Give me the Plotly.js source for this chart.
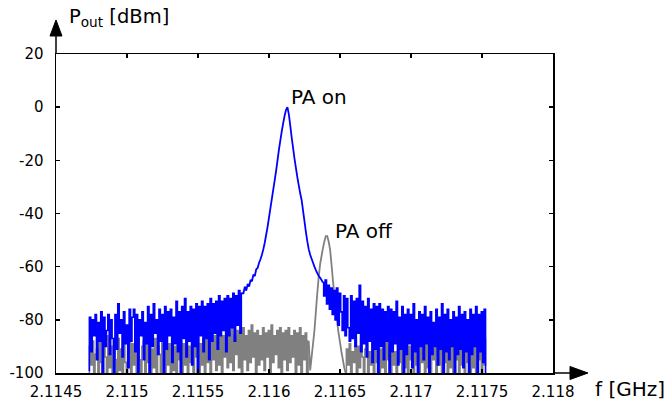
<!DOCTYPE html>
<html>
<head>
<meta charset="utf-8">
<script src="https://cdn.plot.ly/plotly-3.0.1.min.js"></script>
<style>html,body{margin:0;padding:0;background:#fff;}#chart{width:667px;height:401px;}</style>
</head>
<body>
<div id="chart"></div>
<script>
// Frequency sweep points [GHz]
const freqGHz = [
2.11473,2.11474,2.11475,2.11476,2.11477,2.11478,2.11479,2.11480,2.11481,2.11482,
2.11483,2.11484,2.11485,2.11486,2.11487,2.11488,2.11489,2.11490,2.11491,2.11492,
2.11493,2.11494,2.11495,2.11496,2.11497,2.11498,2.11499,2.11500,2.11501,2.11502,
2.11503,2.11504,2.11505,2.11506,2.11507,2.11508,2.11509,2.11510,2.11511,2.11512,
2.11513,2.11514,2.11515,2.11516,2.11517,2.11518,2.11519,2.11520,2.11521,2.11522,
2.11523,2.11524,2.11525,2.11526,2.11527,2.11528,2.11529,2.11530,2.11531,2.11532,
2.11533,2.11534,2.11535,2.11536,2.11537,2.11538,2.11539,2.11540,2.11541,2.11542,
2.11543,2.11544,2.11545,2.11546,2.11547,2.11548,2.11549,2.11550,2.11551,2.11552,
2.11553,2.11554,2.11555,2.11556,2.11557,2.11558,2.11559,2.11560,2.11561,2.11562,
2.11563,2.11564,2.11565,2.11566,2.11567,2.11568,2.11569,2.11570,2.11571,2.11572,
2.11573,2.11574,2.11575,2.11576,2.11577,2.11578,2.11579,2.11580,2.11581,2.11582,
2.11583,2.11584,2.11585,2.11586,2.11587,2.11588,2.11589,2.11590,2.11591,2.11592,
2.11593,2.11594,2.11595,2.11596,2.11597,2.11598,2.11599,2.11600,2.11601,2.11602,
2.11603,2.11604,2.11605,2.11606,2.11607,2.11608,2.11609,2.11610,2.11611,2.11612,
2.11613,2.11614,2.11615,2.11616,2.11617,2.11618,2.11619,2.11620,2.11621,2.11622,
2.11623,2.11624,2.11625,2.11626,2.11627,2.11628,2.11629,2.11630,2.11631,2.11632,
2.11633,2.11634,2.11635,2.11636,2.11637,2.11638,2.11639,2.11640,2.11641,2.11642,
2.11643,2.11644,2.11645,2.11646,2.11647,2.11648,2.11649,2.11650,2.11651,2.11652,
2.11653,2.11654,2.11655,2.11656,2.11657,2.11658,2.11659,2.11660,2.11661,2.11662,
2.11663,2.11664,2.11665,2.11666,2.11667,2.11668,2.11669,2.11670,2.11671,2.11672,
2.11673,2.11674,2.11675,2.11676,2.11677,2.11678,2.11679,2.11680,2.11681,2.11682,
2.11683,2.11684,2.11685,2.11686,2.11687,2.11688,2.11689,2.11690,2.11691,2.11692,
2.11693,2.11694,2.11695,2.11696,2.11697,2.11698,2.11699,2.11700,2.11701,2.11702,
2.11703,2.11704,2.11705,2.11706,2.11707,2.11708,2.11709,2.11710,2.11711,2.11712,
2.11713,2.11714,2.11715,2.11716,2.11717,2.11718,2.11719,2.11720,2.11721,2.11722,
2.11723,2.11724,2.11725,2.11726,2.11727,2.11728,2.11729,2.11730,2.11731,2.11732,
2.11733,2.11734,2.11735,2.11736,2.11737,2.11738,2.11739,2.11740,2.11741,2.11742,
2.11743,2.11744,2.11745,2.11746,2.11747,2.11748,2.11749,2.11750,2.11751,2.11752,
2.11753
];

// PA on [dBm]
const paOn = [
-99,-79,-92,-80,-86,-78,-95,-81,-88,-77,
-100,-79,-90,-84,-78,-93,-80,-87,-100,-78,
-91,-74,-85,-80,-94,-77,-89,-82,-98,-76,
-88,-79,-76,-92,-78,-100,-80,-86,-77,-95,
-81,-89,-75,-100,-78,-90,-74,-85,-80,-93,
-76,-88,-78,-100,-75,-91,-77,-86,-76,-96,
-79,-89,-73,-92,-77,-100,-75,-87,-72,-94,
-77,-88,-75,-97,-76,-90,-74,-100,-75,-86,
-73,-92,-75,-87,-74,-95,-72,-88,-74,-85,
-73,-91,-71,-86,-73,-84,-72,-92,-71,-86,
-72,-83,-70,-88,-71,-82,-69,-85,-70,
-70,-67.5,-69,-66.5,-67.5,-65,-65.5,-63,-63.5,-61,-60.5,-58.5,-57.2,-55.5,-53.5,-51,-48,-45,-41.5,-38,
-34.5,-31,-27.5,-24,-20,-16,-12.5,-9,-6,-3.2,-1,0,-2.8,-7,-11.5,-15.5,-19.5,-23,-26.5,-29.5,
-32.5,-35,-39,-43,-47,-50.5,-53.5,-55.5,-57,-58.5,-60,-61.3,-62.4,-63.5,-64.2,-65,
-66,-71,-65,-74,-67,-76,-68,-78,-69,-80,
-68,-82,-70,-77,-84,-71,-86,-72,-83,-88,
-71,-87,-73,-90,-72,-85,-67,-92,-73,-89,
-75,-94,-72,-88,-76,-96,-74,-91,-75,-100,
-74,-90,-76,-95,-77,-88,-75,-100,-76,-92,
-77,-89,-73,-97,-79,-91,-75,-100,-78,-93,
-76,-89,-78,-98,-74,-92,-80,-100,-77,-90,
-78,-95,-75,-89,-79,-100,-77,-93,-81,-90,
-76,-97,-79,-91,-74,-100,-78,-92,-76,-95,
-80,-90,-77,-100,-79,-93,-75,-91,-78,-98,
-77,-92,-80,-100,-76,-93,-78,-90,-75,-100,
-78,-92,-77,-96,-76,-100
];

// PA off [dBm]
const paOff = [
-100,-90,-97,-88,-100,-93,-91,-100,-87,-96,-100,-89,-94,-100,-86,-98,-90,-100,-88,-95,
-100,-87,-99,-91,-100,-88,-96,-100,-92,-86,-100,-89,-97,-91,-100,-87,-95,-100,-90,-88,
-100,-85,-96,-89,-100,-91,-98,-87,-100,-90,-93,-100,-88,-86,-100,-90,-97,-89,-100,-87,
-99,-90,-100,-86,-95,-88,-100,-89,-97,-85,-100,-90,-96,-87,-100,-88,-94,-86,-100,-89,
-97,-87,-100,-85,-96,-88,-100,-84,-95,-86,-99,-85,-97,-83,-100,-86,-94,-84,-98,-85,
-96,-83,-99,-86,-93,-84,-98,-85,-100,-83,-95,-86,-99,-84,-96,-82,-94,-85,-100,-84,
-97,-86,-95,-83,-99,-85,-94,-84,-100,-82,-96,-86,-93,-84,-98,-83,-100,-85,-95,-84,
-99,-83,-96,-86,-94,-84,-100,-85,-97,-83,-100,-86,-95,-85,-100,-88,
-99,-94,-89,-84,-77,-70,-64,-59,-56,-53,-50.5,-48.5,-48.5,-50.5,-53.5,-59,-65,-70.5,-76,-81,
-85,-88.5,-92,-95,-98,
-100,-91,-97,-89,-100,-92,-96,-88,-100,-90,
-98,-87,-94,-100,-91,-89,-100,-92,-97,-88,
-100,-90,-96,-86,-100,-91,-98,-89,-100,-87,
-95,-90,-100,-88,-97,-92,-100,-89,-96,-87,
-100,-91,-98,-88,-100,-90,-95,-86,-100,-89,
-97,-91,-100,-88,-96,-90,-100,-87,-98,-89,
-100,-91,-95,-88,-100,-90,-97,-86,-100,-89,
-96,-91,-100,-88,-98,-87,-100,-90,-95,-89,
-100,-88,-97,-91,-100,-87,-96,-89,-100,-90,
-98,-86,-100,-89,-95,-88,-100,-90,-97,-87
];

const xTickVals = [2.1145,2.115,2.1155,2.116,2.1165,2.117,2.1175,2.118];
const xTickText = ["2.1145","2.115","2.1155","2.116","2.1165","2.117","2.1175","2.118"];
const yTickVals = [20,0,-20,-40,-60,-80,-100];
const yTickText = ["20","0","-20","-40","-60","-80","-100"];

// index ranges: noise floors are drawn as steps, carrier peaks as plain lines
const onNoiseL = [0, 109], onPeak = [108, 166], onNoiseR = [165, 281];
const offNoiseL = [0, 156], offPeak = [155, 182], offNoiseR = [181, 281];

const FONT = "DejaVu Sans, Verdana, sans-serif";
const GRAY = "#808080", BLUE = "#0000ff";

function seg(ys, r, color, shape, width) {
  return {x: freqGHz.slice(r[0], r[1]), y: ys.slice(r[0], r[1]), type: "scatter", mode: "lines",
    line: {color: color, width: width, shape: shape, simplify: false}, hoverinfo: "skip"};
}

const traces = [
  seg(paOff, offNoiseL, GRAY, "hvh", 1.6),
  seg(paOff, offNoiseR, GRAY, "hvh", 1.6),
  seg(paOff, offPeak, GRAY, "linear", 1.8),
  seg(paOn, onNoiseL, BLUE, "hvh", 1.6),
  seg(paOn, onNoiseR, BLUE, "hvh", 1.6),
  seg(paOn, onPeak, BLUE, "linear", 1.8)
];

const axisCommon = {
  showgrid: false, zeroline: false, showline: true, linecolor: "#000", linewidth: 1.5,
  mirror: "ticks", ticks: "inside", ticklen: 4, tickwidth: 1.5, tickcolor: "#000",
  tickfont: {family: FONT, size: 15, color: "#000"}
};

const layout = {
  width: 667, height: 401,
  margin: {l: 56, r: 114, t: 54, b: 28, pad: 0},
  paper_bgcolor: "#fff", plot_bgcolor: "#fff",
  showlegend: false,
  font: {family: FONT, color: "#000"},
  xaxis: Object.assign({}, axisCommon, {
    range: [2.1145, 2.118], tickmode: "array", tickvals: xTickVals, ticktext: xTickText,
    ticklabelstandoff: 4
  }),
  yaxis: Object.assign({}, axisCommon, {
    range: [-100, 20], tickmode: "array", tickvals: yTickVals, ticktext: yTickText,
    ticklabelstandoff: 8
  }),
  shapes: [
    {type: "line", xref: "paper", yref: "paper", x0: 0, y0: 1, x1: 0, y1: 1.058,
     line: {color: "#000", width: 1.5}},
    {type: "path", xref: "paper", yref: "paper",
     path: "M -0.0121 1.0564 L 0 1.1066 L 0.0121 1.0564 Z",
     fillcolor: "#000", line: {color: "#000", width: 1}},
    {type: "line", xref: "paper", yref: "paper", x0: 1, y0: 0, x1: 1.036, y1: 0,
     line: {color: "#000", width: 1.5}},
    {type: "path", xref: "paper", yref: "paper",
     path: "M 1.0342 0.0204 L 1.0704 0 L 1.0342 -0.0204 Z",
     fillcolor: "#000", line: {color: "#000", width: 1}}
  ],
  annotations: [
    {xref: "paper", yref: "paper", x: 0.0221, y: 1.1129, xanchor: "left", yanchor: "middle",
     text: "P<sub>out</sub> [dBm]", showarrow: false, font: {family: FONT, size: 19.5, color: "#000"}},
    {xref: "paper", yref: "paper", x: 1.0805, y: -0.0502, xanchor: "left", yanchor: "middle",
     text: "f [GHz]", showarrow: false, font: {family: FONT, size: 20, color: "#000"}},
    {xref: "x", yref: "y", x: 2.11614, y: 3.8, xanchor: "left", yanchor: "middle",
     text: "PA on", showarrow: false, font: {family: FONT, size: 20, color: "#000"}},
    {xref: "x", yref: "y", x: 2.11645, y: -46.6, xanchor: "left", yanchor: "middle",
     text: "PA off", showarrow: false, font: {family: FONT, size: 20, color: "#000"}}
  ]
};

Plotly.newPlot("chart", traces, layout, {displayModeBar: false, staticPlot: true});
</script>
</body>
</html>
